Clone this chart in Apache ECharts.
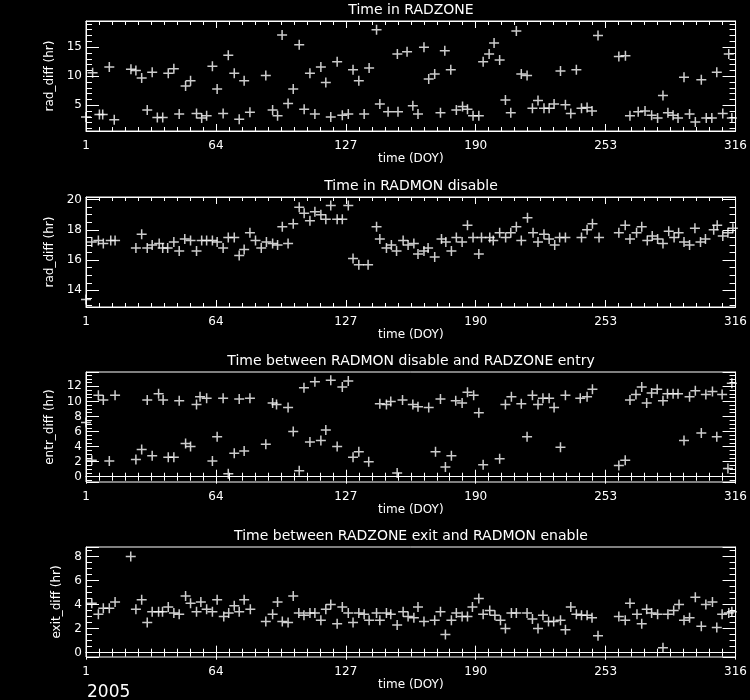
<!DOCTYPE html>
<html>
<head>
<meta charset="utf-8">
<script src="https://cdn.jsdelivr.net/npm/echarts@6/dist/echarts.min.js"></script>
<style>
  html, body { margin: 0; padding: 0; background: #000; }
  #chart { width: 750px; height: 700px; }
</style>
</head>
<body>
<div id="chart"></div>
<script>
// panel titles / y axis names
var titles = ['Time in RADZONE', 'Time in RADMON disable',
  'Time between RADMON disable and RADZONE entry', 'Time between RADZONE exit and RADMON enable']
var yNames = ['rad_diff (hr)', 'rad_diff (hr)', 'entr_diff (hr)', 'exit_diff (hr)']
var xTicks = [1, 64, 127, 190, 253, 316]

// Time in RADZONE
var radzoneDoy = [1, 4.2, 7.5, 9.1, 12.3, 14.7, 22.8, 25.2, 28, 30.7, 33.1, 35.6, 38.2, 40.9, 43.6, 46.2, 49.3, 51.7,
  54.6, 57.1, 59.5, 62.3, 64.6, 67.5, 70, 72.9, 75.3, 77.7, 80.5, 88.2, 91.5, 93.9, 96.1, 99, 101.5, 104.4, 106.8,
  109.6, 112, 114.9, 117.3, 119.7, 122.8, 125.3, 128.2, 130.5, 133.3, 135.9, 138.3, 141.9, 143.5, 147.5, 152, 152.3,
  156.7, 159.5, 162, 164.9, 167.2, 170.1, 172.9, 175, 177.9, 180.6, 183.6, 186, 188.7, 191.5, 193.6, 196.5, 198.9,
  201.6, 204.4, 207, 209.7, 212.1, 214.9, 217.5, 220.2, 223.1, 225.6, 228, 231.1, 233.5, 236.1, 238.8, 241.3, 244,
  246.4, 249.3, 259.4, 262.6, 264.8, 268.8, 272.1, 275.3, 278.2, 280.8, 283.2, 285.7, 288.1, 291, 293.7, 296.5, 299.4,
  301.8, 304.5, 306.9, 309.8, 312.7, 314.2]
var radzoneHr = [3.0, 10.6, 3.4, 3.4, 11.6, 2.5, 11.2, 11.0, 9.7, 4.2, 10.7, 2.9, 2.9, 10.5, 11.3, 3.5, 8.3, 9.2,
  3.6, 2.8, 3.2, 11.7, 7.8, 3.6, 13.6, 10.5, 2.6, 9.2, 3.8, 10.1, 4.2, 3.2, 17.1, 5.3, 7.8, 15.4, 4.3,
  10.5, 3.5, 11.6, 8.9, 3.0, 12.5, 3.3, 3.5, 11.1, 9.2, 3.5, 11.4, 18.0, 5.2, 3.9, 13.8, 3.9,
  14.2, 4.9, 3.5, 15.0, 9.5, 10.4, 3.7, 14.4, 11.1, 4.2, 4.8, 4.3, 3.2, 3.2, 12.5, 13.8, 15.7,
  12.8, 5.9, 3.7, 17.8, 10.4, 10.1, 4.5, 5.8, 4.5, 4.5, 5.2, 10.9, 5.1, 3.6, 11.1, 4.5, 4.6,
  4.0, 17.0, 13.4, 13.5, 3.2, 3.9, 4.0, 3.3, 2.8, 6.7, 3.7, 3.3, 2.8, 9.8, 3.5, 2.1, 9.4,
  2.8, 2.8, 10.7, 3.6, 13.8, 2.8]

// Time in RADMON disable
var radmonDoy = [1, 3.8, 7, 9.4, 13, 15.1, 25.2, 28, 30.7, 33.1, 36.5, 38.2, 40.6, 43.6, 46.2, 48.9, 51.7, 54.6,
  57.1, 59.5, 62.3, 64.6, 67.5, 70, 72.9, 75.3, 77.7, 80.5, 83.2, 86, 88.5, 91.5, 93.9, 96.2, 99, 101.5, 104.4,
  106.8, 109.6, 112, 114.9, 117.3, 119.7, 122.8, 125.3, 128.2, 130.5, 133.3, 137.8, 141.9, 143.5, 146.7, 149.1,
  151.6, 154.8, 157.2, 160, 162, 164.9, 166.9, 170.1, 173.4, 175.5, 178.2, 180.6, 183.4, 186, 188.7, 191.5, 192.8,
  196.8, 198.5, 201.6, 204.5, 207, 209.7, 212.1, 215.1, 217.8, 220.2, 223.1, 225.6, 228.3, 230.7, 233.5, 241.3,
  244, 246.6, 249.8, 259.4, 262.5, 264.8, 268, 270.5, 273.2, 275.6, 278.2, 280.8, 283.6, 286.2, 288.4, 291, 293.7,
  296.3, 299, 301.4, 305.4, 307.1, 309.8, 312.3, 314.7]
var radmonHr = [13.4, 17.2, 17.3, 17.1, 17.3, 17.3, 16.8, 17.7, 16.8, 17.0, 17.1, 16.8, 16.8, 17.2, 16.6, 17.4, 17.3, 16.6,
  17.3, 17.3, 17.3, 17.2, 16.8, 17.5, 17.5, 16.3, 16.7, 17.8, 17.3, 16.8, 17.2, 17.1, 17.0, 18.2, 17.1, 18.4, 19.5,
  19.1, 18.6, 19.2, 19.0, 18.7, 19.6, 18.7, 18.7, 19.6, 16.1, 15.7, 15.7, 18.2, 17.4, 16.8, 17.0,
  16.6, 17.3, 17.0, 17.1, 16.4, 16.6, 16.8, 16.2, 17.4, 17.2, 16.6, 17.5, 17.2, 18.3, 17.5, 16.4, 17.5,
  17.5, 17.3, 17.8, 17.5, 17.8, 18.2, 17.3, 18.8, 17.8, 17.2, 17.7, 17.4, 17.0, 17.5, 17.5, 17.5,
  18.0, 18.4, 17.5, 17.8, 18.3, 17.4, 17.8, 18.2, 17.3, 17.6, 17.4, 17.1, 17.9, 17.5, 17.8, 17.2, 17.0,
  18.1, 17.2, 17.4, 18.0, 18.3, 17.6, 17.8, 18.1]

// Time between RADMON disable and RADZONE entry
var entryDoy = [1, 3.8, 7, 9.4, 12.3, 15.1, 25.2, 28, 30.7, 33.1, 36.2, 38.4, 40.9, 43.6, 46.2, 49.3, 51.7, 54.6,
  56.3, 59.5, 62.3, 64.6, 67.5, 70, 72.9, 75.3, 77.7, 80.5, 88.2, 91.5, 93.4, 99, 101.5, 104.4, 106.7, 109.6, 112,
  114.9, 117.3, 119.7, 122.8, 125.3, 128.2, 130.5, 133.3, 138.1, 143.5, 146.7, 148.8, 151.9, 154.5, 159.5, 162,
  167.2, 170.5, 172.9, 175.3, 178.2, 180.3, 183.4, 186, 189, 191.5, 193.6, 201.6, 204.4, 207.3, 212.1, 214.9,
  217.5, 220.2, 222.6, 225.6, 228, 231.1, 233.5, 240.7, 244, 246.6, 259.4, 262.5, 264.8, 267.7, 270.5, 272.9,
  275.3, 278, 280.8, 283, 285.7, 288.1, 291, 293.7, 296.5, 299.4, 301.6, 304.8, 306.9, 309.5, 312.3, 314.2]
var entryHr = [7.2, 2.2, 10.8, 10.2, 2.1, 10.8, 2.3, 3.6, 10.2, 2.8, 11.0, 10.2, 2.6, 2.6, 10.1, 4.4, 4.0, 9.6,
  10.6, 10.4, 2.1, 5.3, 10.4, 0.4, 3.1, 10.3, 3.4, 10.4, 4.3, 9.8, 9.6, 9.2, 6.0, 0.8, 11.8, 4.6, 12.6,
  4.8, 6.2, 12.8, 4.0, 11.9, 12.7, 2.6, 3.3, 2.0, 9.7, 9.6, 10.0, 0.5, 10.2, 9.6, 9.3,
  9.2, 3.3, 10.3, 1.3, 2.8, 10.1, 9.8, 11.2, 10.8, 8.5, 1.6, 2.4, 9.6, 10.6, 9.7, 5.3,
  10.8, 9.6, 10.4, 10.4, 9.2, 3.9, 10.8, 10.4, 10.6, 11.6, 1.5, 2.2, 10.2, 10.9, 11.9, 9.8,
  11.1, 11.6, 10.1, 11.0, 11.0, 11.0, 4.8, 10.6, 11.4, 5.8, 10.9, 11.3, 5.3, 10.9, 1.1, 12.4]

// Time between RADZONE exit and RADMON enable
var exitDoy = [3.8, 7, 9.4, 12.3, 15.1, 22.7, 25.2, 28, 30.7, 33.1, 36.2, 38.1, 40.9, 43.6, 46.2, 49.3, 51.7, 54.6,
  56.7, 59.5, 62.3, 64.6, 67.8, 70.2, 72.9, 75.3, 77.7, 80.7, 88.2, 91.5, 93.9, 96.2, 99, 101.5, 104.2, 106.7,
  109.6, 112, 114.9, 117.3, 119.7, 122.8, 125.3, 128.2, 130.5, 133.3, 135.9, 138.3, 141.9, 143.5, 146.7, 148.8,
  151.9, 154.8, 157.2, 160, 162, 164.9, 170.1, 172.9, 175.3, 178.2, 180.6, 183.4, 186, 188.4, 191.5, 193.6, 196.8,
  199.3, 202, 204.4, 207.3, 209.7, 214.9, 217.5, 220.2, 222.6, 225.3, 227.8, 231.1, 233.5, 236.1, 238.8, 241.3, 244,
  246.4, 249.3, 259.4, 262.5, 264.8, 268.2, 270.5, 272.9, 275.3, 278.2, 280.8, 283.2, 286, 288.6, 291, 293.7,
  296.5, 299.4, 301.6, 304.8, 306.9, 309.5, 312.7, 314.2]
var exitHr = [4.1, 3.2, 3.7, 3.7, 4.2, 8.0, 3.6, 4.4, 2.5, 3.4, 3.4, 3.4, 3.8, 3.3, 3.2, 4.7, 4.1, 3.4,
  4.2, 3.6, 3.4, 4.4, 3.0, 3.3, 3.9, 3.4, 4.4, 3.6, 2.6, 3.2, 4.2, 2.6, 2.5, 4.7, 3.3, 3.1,
  3.3, 3.3, 2.7, 3.6, 4.0, 2.4, 3.8, 3.3, 2.5, 3.3, 3.2, 2.7, 3.3, 2.7, 3.3, 3.2,
  2.3, 3.4, 3.0, 2.9, 3.8, 2.6, 2.7, 3.4, 1.5, 2.7, 3.3, 3.0, 3.0, 3.8, 4.5, 3.2, 3.5,
  3.1, 2.7, 2.0, 3.3, 3.3, 3.3, 2.8, 2.0, 3.1, 2.6, 2.6, 2.7, 1.9, 3.8, 3.2, 3.1, 3.1,
  2.9, 1.4, 3.0, 2.7, 4.1, 3.2, 2.4, 3.6, 3.3, 3.2, 0.4, 3.2, 3.5, 4.0, 2.7, 2.9,
  4.6, 2.2, 4.0, 4.2, 2.1, 3.2, 3.3, 3.4]

var seriesDoy = [radzoneDoy, radmonDoy, entryDoy, exitDoy]
var seriesHr = [radzoneHr, radmonHr, entryHr, exitHr]
var yMin = [0.57, 12.9, -0.7, -0.36]
var yMax = [19.5, 20.17, 13.9, 8.78]
var ySplit = [4, 4, 7, 5]
var yMinor = [5, 4, 4, 4]
var panelTop = [21, 197, 372, 547]

var chart = echarts.init(document.getElementById('chart'))

var white = '#fff'
var font = 'DejaVu Sans'
var grids = [], xAxes = [], yAxes = [], series = [], graphics = []

for (var i = 0; i < 4; i++) {
  grids.push({ left: 86, right: 14, top: panelTop[i], height: 110, show: true, borderColor: white, borderWidth: 1 })

  var xBase = {
    gridIndex: i, type: 'value', min: 1, max: 316, interval: 63,
    axisLine: { lineStyle: { color: white } },
    axisTick: { inside: true, length: 7, lineStyle: { color: white } },
    minorTick: { show: true, splitNumber: 10, length: 4, lineStyle: { color: white } },
    splitLine: { show: false }
  }
  xAxes.push(Object.assign({}, xBase, {
    position: 'bottom',
    axisLabel: { color: white, fontSize: 12, fontFamily: font, margin: 9 },
    name: 'time (DOY)', nameLocation: 'middle', nameGap: 21,
    nameTextStyle: { color: white, fontSize: 12, fontFamily: font }
  }))
  xAxes.push(Object.assign({}, xBase, { position: 'top', axisLabel: { show: false } }))

  var yBase = {
    gridIndex: i, type: 'value', min: yMin[i], max: yMax[i], splitNumber: ySplit[i],
    axisLine: { lineStyle: { color: white } },
    axisTick: { inside: true, length: 13, lineStyle: { color: white } },
    minorTick: { show: true, splitNumber: yMinor[i], length: 6, lineStyle: { color: white } },
    splitLine: { show: false }
  }
  yAxes.push(Object.assign({}, yBase, {
    position: 'left',
    axisLabel: { color: white, fontSize: 12, fontFamily: font, margin: 4, showMinLabel: false, showMaxLabel: false },
    name: yNames[i], nameLocation: 'middle', nameGap: 23,
    nameTextStyle: { color: white, fontSize: 12, fontFamily: font }
  }))
  yAxes.push(Object.assign({}, yBase, { position: 'right', axisLabel: { show: false } }))

  var pts = seriesDoy[i].map(function (d, k) { return [d, seriesHr[i][k]] })
  series.push({
    type: 'scatter', xAxisIndex: i * 2, yAxisIndex: i * 2, data: pts,
    symbol: 'path://M0,5L10,5M5,0L5,10', symbolSize: 10,
    itemStyle: { color: 'none', borderColor: white, borderWidth: 1.5 },
    silent: true, animation: false
  })

  graphics.push({
    type: 'text', x: 411, y: panelTop[i] - 18,
    style: { text: titles[i], fill: white, font: '14px "DejaVu Sans"', textAlign: 'center' }
  })
}

graphics.push({
  type: 'text', x: 87, y: 684,
  style: { text: '2005', fill: white, font: '17px "DejaVu Sans"' }
})

chart.setOption({
  backgroundColor: '#000',
  animation: false,
  grid: grids,
  xAxis: xAxes,
  yAxis: yAxes,
  series: series,
  graphic: graphics
})
</script>
</body>
</html>
